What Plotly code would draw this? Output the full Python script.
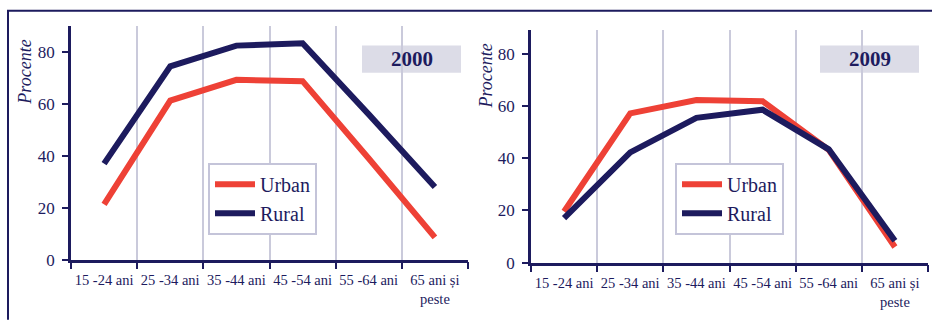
import plotly.graph_objects as go

W, H = 932, 322

age_groups = ["15 -24 ani", "25 -34 ani", "35 -44 ani", "45 -54 ani", "55 -64 ani", "65 ani și<br>peste"]

urban_2000 = [21.3, 61.3, 69.3, 68.8, 39.0, 8.6]
rural_2000 = [37.0, 74.5, 82.5, 83.4, 56.0, 28.0]

urban_2009 = [19.6, 57.3, 62.4, 62.0, 43.3, 6.0]
rural_2009 = [17.1, 42.3, 55.6, 58.7, 43.5, 8.4]

years = ["2000", "2009"]

NAVY = "#1d1b5e"
RED = "#ee4136"
GRID = "#cacadb"
BOX = "#dcdce7"
FONT = "Liberation Serif, Times New Roman, DejaVu Serif, serif"


def px_x(p):
    return p / W


def px_y(p):
    return 1 - p / H


fig = go.Figure()

# left panel (2000)
fig.add_trace(go.Scatter(x=age_groups, y=urban_2000, name="Urban", mode="lines",
                         line=dict(color=RED, width=6), xaxis="x", yaxis="y", legend="legend"))
fig.add_trace(go.Scatter(x=age_groups, y=rural_2000, name="Rural", mode="lines",
                         line=dict(color=NAVY, width=6), xaxis="x", yaxis="y", legend="legend"))

# right panel (2009)
fig.add_trace(go.Scatter(x=age_groups, y=urban_2009, name="Urban", mode="lines",
                         line=dict(color=RED, width=6), xaxis="x2", yaxis="y2", legend="legend2"))
fig.add_trace(go.Scatter(x=age_groups, y=rural_2009, name="Rural", mode="lines",
                         line=dict(color=NAVY, width=6), xaxis="x2", yaxis="y2", legend="legend2"))

xaxis_style = dict(type="category", range=[-0.5, 5.5], tickson="boundaries",
                   showgrid=True, gridcolor=GRID, gridwidth=1.5,
                   showline=True, linecolor=NAVY, linewidth=2.5,
                   ticks="outside", ticklen=7, tickcolor=NAVY, tickwidth=1.5, tickangle=0,
                   ticklabelstandoff=5,
                   tickfont=dict(family=FONT, size=14.5, color=NAVY), fixedrange=True)
yaxis_style = dict(tickvals=[0, 20, 40, 60, 80], showgrid=False, zeroline=False,
                   showline=True, linecolor=NAVY, linewidth=2.5,
                   ticks="outside", ticklen=6, tickcolor=NAVY, tickwidth=1.5,
                   ticklabelstandoff=4,
                   tickfont=dict(family=FONT, size=17, color=NAVY), fixedrange=True)

legend_style = dict(font=dict(family=FONT, size=20, color=NAVY), bgcolor="white",
                    bordercolor="#c4c4d9", borderwidth=2, xanchor="left", yanchor="top",
                    tracegroupgap=0, itemwidth=40)

fig.update_layout(
    width=W, height=H,
    margin=dict(l=0, r=0, t=0, b=0),
    paper_bgcolor="white", plot_bgcolor="white",
    xaxis=dict(domain=[px_x(71), px_x(468)], anchor="y", **xaxis_style),
    yaxis=dict(domain=[px_y(268), px_y(27)], range=[0, 90], anchor="x", **yaxis_style),
    xaxis2=dict(domain=[px_x(531), px_x(928)], anchor="y2", **xaxis_style),
    yaxis2=dict(domain=[px_y(271), px_y(31)], range=[0, 89.3], anchor="x2", **yaxis_style),
    legend=dict(x=px_x(208), y=px_y(168), **legend_style),
    legend2=dict(x=px_x(675), y=px_y(168), **legend_style),
)

# outer frame (left and top edges)
fig.add_shape(type="path", xref="paper", yref="paper",
              path=f"M {px_x(8)},{px_y(330)} L {px_x(8)},{px_y(11)} L {px_x(940)},{px_y(11)}",
              line=dict(color=NAVY, width=2))

# year boxes
for x0, x1, y0, y1, year in [(362, 461, 47, 75, years[0]), (820, 919, 47, 75, years[1])]:
    fig.add_shape(type="rect", xref="paper", yref="paper",
                  x0=px_x(x0), x1=px_x(x1), y0=px_y(y1), y1=px_y(y0),
                  fillcolor=BOX, line=dict(width=0), layer="below")
    fig.add_annotation(xref="paper", yref="paper", x=px_x((x0 + x1) / 2), y=px_y((y0 + y1) / 2),
                       xanchor="center", yanchor="middle",
                       text=f"<b>{year}</b>", showarrow=False,
                       font=dict(family=FONT, size=21, color=NAVY))

# axis titles
for xp, yp in [(25, 75), (486, 79)]:
    fig.add_annotation(xref="paper", yref="paper", x=px_x(xp), y=px_y(yp),
                       xanchor="center", yanchor="middle",
                       text="<i>Procente</i>", showarrow=False, textangle=-90,
                       font=dict(family=FONT, size=18, color=NAVY))

fig.write_html("out.html", config={"displayModeBar": False},
               post_script="document.body.style.margin='0';")
